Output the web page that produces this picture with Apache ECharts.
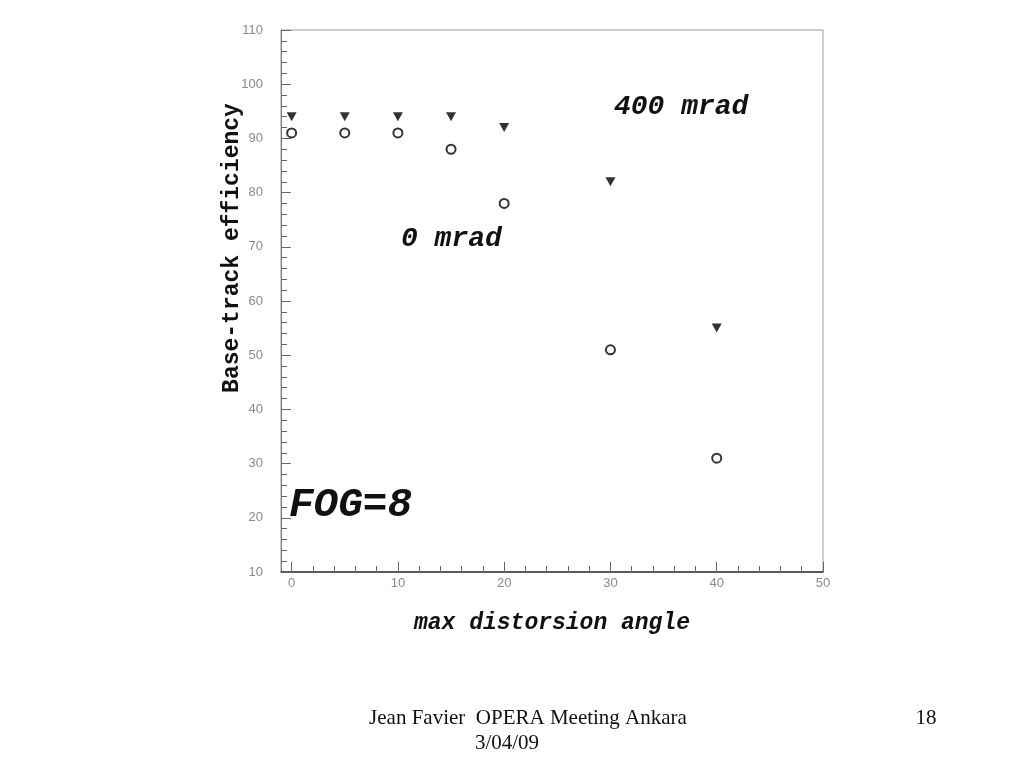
<!DOCTYPE html>
<html>
<head>
<meta charset="utf-8">
<script src="https://cdn.jsdelivr.net/npm/echarts@6/dist/echarts.min.js"></script>
<style>html,body{margin:0;padding:0;background:#fff;}#chart{width:1024px;height:768px;}</style>
</head>
<body>
<div id="chart"></div>
<script>
// Data
var angles = [0, 5, 10, 15, 20, 30, 40];
var eff400mrad = [94, 94, 94, 94, 92, 82, 55];
var eff0mrad = [91, 91, 91, 88, 78, 51, 31];
var xMajorTicks = [0, 10, 20, 30, 40, 50];
var xMinorTicks = [0, 2, 4, 6, 8, 10, 12, 14, 16, 18, 20, 22, 24, 26, 28, 30, 32, 34, 36, 38, 40, 42, 44, 46, 48, 50];
var xTitle = 'max distorsion angle';
var yTitle = 'Base-track efficiency';
var label400 = '400 mrad';
var label0 = '0 mrad';
var labelFog = 'FOG=8';
var footerLine1 = 'Jean Favier  OPERA Meeting Ankara';
var footerLine2 = '3/04/09';
var pageNumber = '18';

var chart = echarts.init(document.getElementById('chart'));
var mono = '"Liberation Mono", "DejaVu Sans Mono", monospace';
var serif = '"Liberation Serif", "Times New Roman", serif';
var labelStyle = { color: '#8a8a8a', fontSize: 13, fontFamily: '"Liberation Sans", "DejaVu Sans", sans-serif' };

function pairs(xs, ys) { return xs.map(function (x, i) { return [x, ys[i]]; }); }

var option = {
  backgroundColor: '#ffffff',
  animation: false,
  grid: { left: 281, right: 201, top: 30, bottom: 196, show: true, borderColor: '#9a9a9a', borderWidth: 1, backgroundColor: 'transparent' },
  xAxis: [
    {
      type: 'value', min: -1, max: 50,
      axisLine: { show: true, onZero: false, lineStyle: { color: '#333', width: 1.5 } },
      axisTick: { show: true, inside: true, length: 10, customValues: xMajorTicks, lineStyle: { color: '#666' } },
      axisLabel: { customValues: xMajorTicks, margin: 5, ...labelStyle },
      splitLine: { show: false },
      name: xTitle, nameLocation: 'middle', nameGap: 40,
      nameTextStyle: { fontFamily: mono, fontWeight: 'bold', fontStyle: 'italic', fontSize: 23, color: '#111' }
    },
    {
      type: 'value', min: -1, max: 50, position: 'bottom',
      axisLine: { show: false, onZero: false },
      axisTick: { show: true, inside: true, length: 6, customValues: xMinorTicks, lineStyle: { color: '#666' } },
      axisLabel: { show: false },
      splitLine: { show: false }
    }
  ],
  yAxis: {
    type: 'value', min: 10, max: 110, interval: 10,
    axisLine: { show: true, onZero: false, lineStyle: { color: '#777', width: 1 } },
    axisTick: { show: true, inside: true, length: 10, lineStyle: { color: '#666' } },
    minorTick: { show: true, splitNumber: 5, length: 6, lineStyle: { color: '#666' } },
    axisLabel: { margin: 18, ...labelStyle },
    splitLine: { show: false }
  },
  series: [
    {
      name: '400 mrad', type: 'scatter', xAxisIndex: 0,
      data: pairs(angles, eff400mrad),
      symbol: 'triangle', symbolRotate: 180, symbolSize: [10, 9],
      itemStyle: { color: '#000' }
    },
    {
      name: '0 mrad', type: 'scatter', xAxisIndex: 0,
      data: pairs(angles, eff0mrad),
      symbol: 'circle', symbolSize: 9,
      itemStyle: { color: '#fff', borderColor: '#000', borderWidth: 2 }
    }
  ],
  graphic: [
    { type: 'text', x: 232, y: 248, rotation: Math.PI / 2,
      style: { text: yTitle, x: 0, y: 0, font: 'bold 23px ' + mono, fill: '#111', textAlign: 'center', textVerticalAlign: 'middle' } },
    { type: 'text', x: 614, y: 107, style: { text: label400, font: 'italic bold 28px ' + mono, fill: '#111', textAlign: 'left', textVerticalAlign: 'middle' } },
    { type: 'text', x: 401, y: 239, style: { text: label0, font: 'italic bold 28px ' + mono, fill: '#111', textAlign: 'left', textVerticalAlign: 'middle' } },
    { type: 'text', x: 289, y: 506, style: { text: labelFog, font: 'italic bold 41px ' + mono, fill: '#111', textAlign: 'left', textVerticalAlign: 'middle' } },
    { type: 'text', x: 528, y: 718, style: { text: footerLine1, font: '21px ' + serif, fill: '#111', textAlign: 'center', textVerticalAlign: 'middle' } },
    { type: 'text', x: 507, y: 743, style: { text: footerLine2, font: '21px ' + serif, fill: '#111', textAlign: 'center', textVerticalAlign: 'middle' } },
    { type: 'text', x: 926, y: 718, style: { text: pageNumber, font: '21px ' + serif, fill: '#111', textAlign: 'center', textVerticalAlign: 'middle' } }
  ]
};
chart.setOption(option);
</script>
</body>
</html>
